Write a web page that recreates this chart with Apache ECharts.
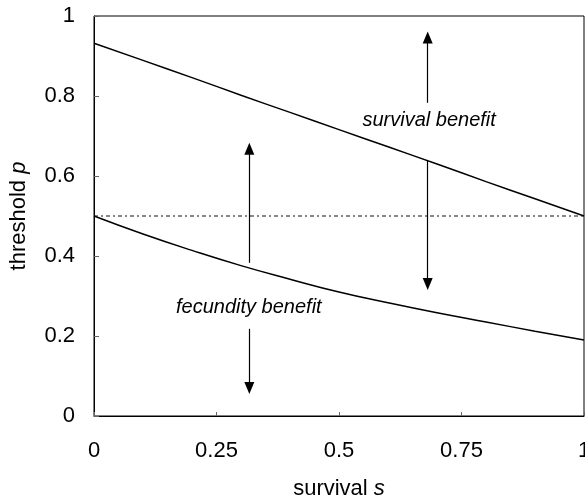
<!DOCTYPE html>
<html>
<head>
<meta charset="utf-8">
<script src="https://cdn.jsdelivr.net/npm/echarts@6/dist/echarts.min.js"></script>
<style>
  html, body { margin: 0; padding: 0; background: #fff; }
  #chart { width: 585px; height: 501px; }
</style>
</head>
<body>
<div id="chart"></div>
<script>
// ---- data ----
const survival = [0, 0.1, 0.2, 0.3, 0.4, 0.5, 0.6, 0.7, 0.8, 0.9, 1];
const upperThreshold = [0.932, 0.889, 0.846, 0.802, 0.759, 0.716, 0.673, 0.630, 0.586, 0.543, 0.5];
const lowerThreshold = [0.5, 0.455, 0.414, 0.376, 0.342, 0.310, 0.283, 0.258, 0.235, 0.212, 0.19];
const neutralLine = [0.5, 0.5];
const neutralS = [0, 1];
const xTicks = [0, 0.25, 0.5, 0.75, 1];
const yTicks = [0, 0.2, 0.4, 0.6, 0.8, 1];
// arrows: [s, pStart, pEnd]
const arrowFecundityUp = [0.317, 0.383, 0.668];
const arrowFecundityDown = [0.317, 0.218, 0.07];
const arrowSurvivalUp = [0.681, 0.783, 0.946];
const arrowSurvivalDown = [0.681, 0.638, 0.33];
// annotations: [s, p, text]
const labelSurvival = [0.684, 0.74, 'survival benefit'];
const labelFecundity = [0.316, 0.2725, 'fecundity benefit'];

const FONT = '"Liberation Sans", Arial, sans-serif';
const chart = echarts.init(document.getElementById('chart'), null, { renderer: 'canvas' });

function pairs(xs, ys) { return xs.map((x, i) => [x, ys[i]]); }
function arrow(a) { return [{ coord: [a[0], a[1]] }, { coord: [a[0], a[2]] }]; }

const option = {
  animation: false,
  backgroundColor: '#fff',
  grid: {
    left: 94, right: 1, top: 16, bottom: 85,
    show: true, borderColor: '#000', borderWidth: 1,
    containLabel: false, outerBoundsMode: 'none'
  },
  xAxis: {
    type: 'value', min: 0, max: 1, interval: 0.25,
    name: 'survival {i|s}',
    nameLocation: 'middle', nameGap: 62,
    nameTextStyle: {
      fontFamily: FONT, fontSize: 22, color: '#000',
      rich: { i: { fontStyle: 'italic', fontFamily: FONT, fontSize: 22, color: '#000' } }
    },
    axisLine: { show: true, lineStyle: { color: '#000', width: 1 } },
    axisTick: { show: true, inside: true, length: 4, lineStyle: { color: '#666' } },
    axisLabel: {
      fontFamily: FONT, fontSize: 22, color: '#000', margin: 24,
      formatter: v => String(xTicks.find(t => Math.abs(t - v) < 1e-9) ?? v)
    },
    splitLine: { show: false }
  },
  yAxis: {
    type: 'value', min: 0, max: 1, interval: 0.2,
    name: 'threshold {i|p}',
    nameLocation: 'middle', nameGap: 64, nameRotate: 90,
    nameTextStyle: {
      fontFamily: FONT, fontSize: 22, color: '#000',
      rich: { i: { fontStyle: 'italic', fontFamily: FONT, fontSize: 22, color: '#000' } }
    },
    axisLine: { show: true, lineStyle: { color: '#000', width: 1 } },
    axisTick: { show: true, inside: true, length: 5, lineStyle: { color: '#666' } },
    axisLabel: {
      fontFamily: FONT, fontSize: 22, color: '#000', margin: 19,
      formatter: v => String(yTicks.find(t => Math.abs(t - v) < 1e-9) ?? v)
    },
    splitLine: { show: false }
  },
  series: [
    {
      type: 'line', name: 'upper', data: pairs(survival, upperThreshold),
      showSymbol: false, smooth: true, silent: true,
      lineStyle: { color: '#000', width: 1.5 }
    },
    {
      type: 'line', name: 'lower', data: pairs(survival, lowerThreshold),
      showSymbol: false, smooth: true, silent: true,
      lineStyle: { color: '#000', width: 1.5 }
    },
    {
      type: 'line', name: 'neutral', data: pairs(neutralS, neutralLine),
      showSymbol: false, silent: true,
      lineStyle: { color: '#111', width: 1, type: [4, 3, 2, 3] },
      markLine: {
        silent: true, animation: false,
        symbol: ['none', 'triangle'], symbolSize: [10, 12],
        label: { show: false },
        lineStyle: { color: '#000', width: 1.2, type: 'solid' },
        emphasis: { disabled: true },
        data: [arrow(arrowFecundityUp), arrow(arrowFecundityDown), arrow(arrowSurvivalUp), arrow(arrowSurvivalDown)]
      }
    },
    {
      type: 'scatter', name: 'labels', silent: true,
      symbolSize: 1, itemStyle: { opacity: 0 },
      data: [
        { value: [labelSurvival[0], labelSurvival[1]], name: labelSurvival[2] },
        { value: [labelFecundity[0], labelFecundity[1]], name: labelFecundity[2] }
      ],
      label: {
        show: true, position: 'inside', formatter: p => p.name,
        fontFamily: FONT, fontStyle: 'italic', fontSize: 20, color: '#000',
        textBorderWidth: 0, opacity: 1
      },
      labelLayout: { hideOverlap: false }
    }
  ]
};
chart.setOption(option);
</script>
</body>
</html>
